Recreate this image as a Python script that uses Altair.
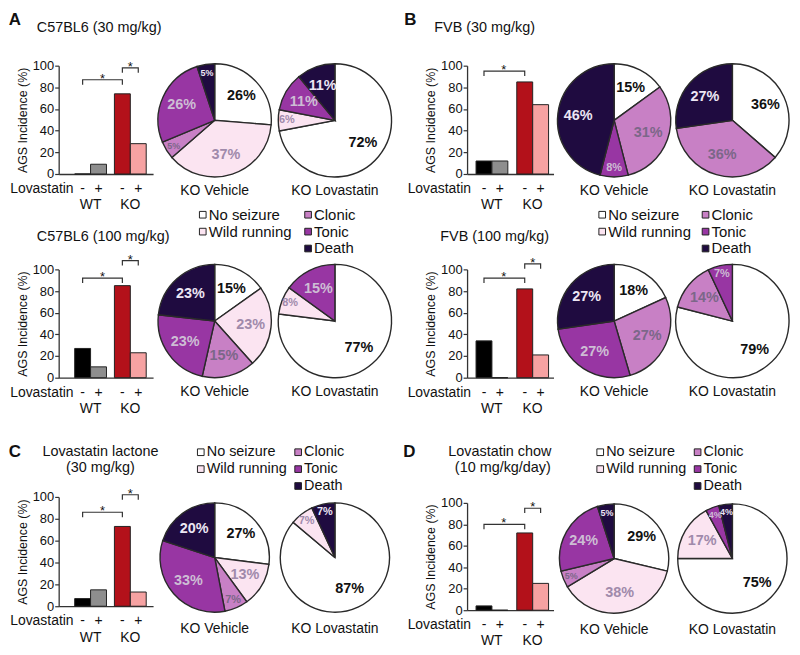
import altair as alt
import pandas as pd

FONT = "Liberation Sans"
INK = "#222222"

# ---------------- data ----------------
categories = ["No seizure", "Wild running", "Clonic", "Tonic", "Death"]
slice_colors = ["#ffffff", "#fbe4f1", "#c880c5", "#9836a3", "#1f0b40"]
slice_label_colors = ["#111111", "#a08aab", "#7c6789", "#cdbdd4", "#ece6f4"]
legend_col = [0, 0, 1, 1, 1]
legend_row = [0, 1, 0, 1, 2]

genotype = ["WT", "WT", "KO", "KO"]
lovastatin = ["-", "+", "-", "+"]
bar_colors = ["#000000", "#8e8e8e", "#b3111a", "#f6a2a2"]

# AGS incidence (%) : WT-, WT+, KO-, KO+
a1_bars = [0, 9, 74, 28]
a2_bars = [27, 10, 85, 23]
b1_bars = [12, 12, 85, 64]
b2_bars = [34, 0, 82, 21]
c_bars = [7, 15, 73, 13]
d_bars = [4, 0, 72, 25]

# seizure outcome (%) in order of categories
a1_vehicle = [26, 37, 5, 26, 5]
a1_lovastatin = [72, 6, 0, 11, 11]
a2_vehicle = [15, 23, 15, 23, 23]
a2_lovastatin = [77, 8, 0, 15, 0]
b1_vehicle = [15, 0, 31, 8, 46]
b1_lovastatin = [36, 0, 36, 0, 27]
b2_vehicle = [18, 0, 27, 27, 27]
b2_lovastatin = [79, 0, 14, 7, 0]
c_vehicle = [27, 13, 7, 33, 20]
c_lovastatin = [87, 7, 0, 0, 7]
d_vehicle = [29, 38, 5, 24, 5]
d_lovastatin = [75, 17, 0, 4, 4]

# significance brackets: (from genotype, from treatment, to genotype, to treatment, level %)
a1_sig = [("WT", "-", "KO", "-", 87), ("KO", "-", "KO", "+", 98)]
a2_sig = [("WT", "-", "KO", "-", 92), ("KO", "-", "KO", "+", 108)]
b1_sig = [("WT", "-", "KO", "-", 95)]
b2_sig = [("WT", "-", "KO", "-", 92), ("KO", "-", "KO", "+", 105)]
c_sig = [("WT", "-", "KO", "-", 86), ("KO", "-", "KO", "+", 102)]
d_sig = [("WT", "-", "KO", "-", 80), ("KO", "-", "KO", "+", 95)]


def text_layer(txt, x, y, size=14, weight="normal", align="left"):
    return alt.Chart(pd.DataFrame({"t": [txt]})).mark_text(
        fontSize=size, fontWeight=weight, align=align, color="#111111", font=FONT
    ).encode(text="t:N", x=alt.value(x), y=alt.value(y))


def bar_cell(vals, sig, W, H, top, xpad, lov_x, texts):
    df = pd.DataFrame({"gen": genotype, "trt": lovastatin, "v": vals, "col": bar_colors})
    pi, po, al = xpad
    xenc = alt.X("gen:N", scale=alt.Scale(domain=["WT", "KO"], paddingInner=pi,
                                            paddingOuter=po, align=al),
                 axis=alt.Axis(title=None, ticks=False, labelAngle=0, labelPadding=24,
                               labelFontSize=14, labelColor="#111111", labelFont=FONT,
                               domainColor="#333333", domainWidth=1.3))
    xoff = alt.XOffset("trt:N", scale=alt.Scale(domain=["-", "+"], paddingInner=0, paddingOuter=0))
    yenc = alt.Y("v:Q", scale=alt.Scale(domain=[0, 100], range=[H, top], nice=False),
                 axis=alt.Axis(values=[0, 20, 40, 60, 80, 100], title="AGS Incidence (%)",
                               grid=False, tickSize=4, labelPadding=1, labelFontSize=13,
                               labelFont=FONT, titleFont=FONT, titleFontSize=12.5,
                               titleFontWeight="normal", titlePadding=3, titleColor="#111111",
                               labelColor="#111111", domainColor="#333333", domainWidth=1.3,
                               tickColor="#333333", tickWidth=1.2))
    bars = alt.Chart(df).mark_bar(stroke=INK, strokeWidth=1).encode(
        x=xenc, xOffset=xoff, y=yenc, fill=alt.Fill("col:N", scale=None))
    signs = alt.Chart(df).mark_text(fontSize=14, font=FONT, color="#111111").encode(
        x=xenc, xOffset=xoff, y=alt.value(H + 15), text="trt:N")
    rows = []
    for i, (g1, t1, g2, t2, lv) in enumerate(sig):
        for k, (g, t, v) in enumerate([(g1, t1, lv - 4.5), (g1, t1, lv), (g2, t2, lv), (g2, t2, lv - 4.5)]):
            rows.append({"gen": g, "trt": t, "v": v, "ord": k, "bid": i})
    bdf = pd.DataFrame(rows)
    brackets = alt.Chart(bdf).mark_line(color="#333333", strokeWidth=1.2).encode(
        x=xenc, xOffset=xoff, y=yenc, detail="bid:N", order="ord:Q")
    layers = [bars, brackets, signs]
    s1 = pd.DataFrame([{"gen": sig[0][0], "trt": "+", "v": sig[0][4], "s": "*"}])
    layers.append(alt.Chart(s1).mark_text(fontSize=13, dx=4, dy=3, baseline="alphabetic",
                                          font=FONT, color="#111111").encode(
        x=xenc, xOffset=xoff, y=yenc, text="s:N"))
    if len(sig) > 1:
        s2 = pd.DataFrame([{"gen": sig[1][0], "trt": sig[1][1], "v": sig[1][4], "s": "*"}])
        layers.append(alt.Chart(s2).mark_text(fontSize=13, dx=8, dy=3, baseline="alphabetic",
                                              font=FONT, color="#111111").encode(
            x=xenc, xOffset=xoff, y=yenc, text="s:N"))
    layers.append(text_layer("Lovastatin", lov_x, H + 15, 14, "normal", "right"))
    for t in texts:
        layers.append(text_layer(*t))
    return alt.layer(*layers).properties(width=W, height=H)


label_fill = {
    "condition": [{"test": f"datum.ord == {i}", "value": c}
                  for i, c in enumerate(slice_label_colors[:-1])],
    "value": slice_label_colors[-1],
}
label_size = {
    "condition": [{"test": "datum.v < 6", "value": 9},
                  {"test": "datum.v < 10", "value": 11}],
    "value": 14.5,
}


def pie_cell(vals, W, H, cx, cy, r, name, gap, legend=None):
    df = pd.DataFrame({"cat": categories, "v": vals, "ord": list(range(5)),
                       "fillc": slice_colors})
    df = df[df.v > 0].copy()
    df["big"] = [f"{v}%" if v >= 10 else "" for v in df.v]
    df["small"] = [f"{v}%" if v < 10 else "" for v in df.v]
    base = alt.Chart(df).encode(theta=alt.Theta("v:Q", stack=True), order=alt.Order("ord:Q"))
    arcs = base.mark_arc(radius=r, stroke="#2a2a2a", strokeWidth=1.4).encode(
        fill=alt.Fill("fillc:N", scale=None), x=alt.value(cx), y=alt.value(cy))
    labs_big = base.mark_text(fontWeight="bold", font=FONT).encode(
        radius=alt.value(r * 0.64), text="big:N", fill=label_fill, size=label_size,
        x=alt.value(cx), y=alt.value(cy))
    labs_small = base.mark_text(fontWeight="bold", font=FONT).encode(
        radius=alt.value(r * 0.85), text="small:N", fill=label_fill, size=label_size,
        x=alt.value(cx), y=alt.value(cy))
    layers = [arcs, labs_big, labs_small,
              text_layer(name, cx, cy + r + gap, 14, "normal", "center")]
    if legend is not None:
        x0, x1, y0, fs = legend
        ldf = pd.DataFrame({"cat": categories, "lcol": legend_col, "lrow": legend_row,
                            "fillc": slice_colors})
        lx = alt.X("lcol:Q", scale=alt.Scale(domain=[0, 1], range=[x0, x1], nice=False), axis=None)
        ly = alt.Y("lrow:Q", scale=alt.Scale(domain=[0, 2], range=[y0, y0 + 34], nice=False), axis=None)
        layers.append(alt.Chart(ldf).mark_square(size=45, stroke=INK, strokeWidth=1, opacity=1).encode(
            x=lx, y=ly, fill=alt.Fill("fillc:N", scale=None)))
        layers.append(alt.Chart(ldf).mark_text(align="left", dx=6, fontSize=fs, font=FONT,
                                               color="#111111").encode(x=lx, y=ly, text="cat:N"))
    return alt.layer(*layers).properties(width=W, height=H)


PAD_A = (0.2, 0.2875, 0.70)
PAD_B = (0.23, 0.176, 0.625)

cells = [
    # row 1
    bar_cell(a1_bars, a1_sig, 95, 110, 1, PAD_A, 15,
             [("A", -44, -44.5, 17, "bold", "center"), ("C57BL6 (30 mg/kg)", -22, -37, 14.5)]),
    pie_cell(a1_vehicle, 116, 110, 58, 56, 57, "KO Vehicle", 14),
    pie_cell(a1_lovastatin, 188, 110, 59, 56, 57, "KO Lovastatin", 14),
    bar_cell(b1_bars, b1_sig, 87, 110, 1, PAD_B, 4,
             [("B", -57, -44.5, 17, "bold", "center"), ("FVB (30 mg/kg)", -33, -37, 14.5)]),
    pie_cell(b1_vehicle, 116, 110, 57, 56, 57, "KO Vehicle", 14),
    pie_cell(b1_lovastatin, 116, 110, 56, 56, 57, "KO Lovastatin", 14),
    # row 2
    bar_cell(a2_bars, a2_sig, 95, 165, 56, PAD_A, 15, [("C57BL6 (100 mg/kg)", -22, 23, 14.5)]),
    pie_cell(a2_vehicle, 116, 165, 58, 108, 57, "KO Vehicle", 14, legend=(46, 152, 1, 15)),
    pie_cell(a2_lovastatin, 188, 165, 59, 108, 57, "KO Lovastatin", 14),
    bar_cell(b2_bars, b2_sig, 87, 165, 56, PAD_B, 4, [("FVB (100 mg/kg)", -27, 23, 14.5)]),
    pie_cell(b2_vehicle, 116, 165, 57, 108, 57, "KO Vehicle", 14, legend=(45, 149, 1, 15)),
    pie_cell(b2_lovastatin, 116, 165, 56, 108, 57, "KO Lovastatin", 14),
    # row 3
    bar_cell(c_bars, c_sig, 95, 190, 80, PAD_A, 15,
             [("C", -44, 35, 17, "bold", "center"), ("Lovastatin lactone", 42, 35, 14.5, "normal", "center"),
              ("(30 mg/kg)", 42, 51, 14.5, "normal", "center")]),
    pie_cell(c_vehicle, 116, 190, 58, 141, 55, "KO Vehicle", 17, legend=(44, 142, 35, 14.5)),
    pie_cell(c_lovastatin, 188, 190, 59, 141, 55, "KO Lovastatin", 17),
    bar_cell(d_bars, d_sig, 87, 194, 86, PAD_B, 4,
             [("D", -58, 35, 17, "bold", "center"), ("Lovastatin chow", 33, 35, 14.5, "normal", "center"),
              ("(10 mg/kg/day)", 36, 51, 14.5, "normal", "center")]),
    pie_cell(d_vehicle, 116, 190, 57, 142, 55, "KO Vehicle", 17, legend=(43, 141, 35, 14.5)),
    pie_cell(d_lovastatin, 116, 190, 56, 142, 55, "KO Lovastatin", 17),
]

chart = alt.concat(*cells, columns=6, spacing={"row": 40, "column": 4}, bounds="flush").resolve_scale(
    x="independent", y="independent", theta="independent"
).properties(
    padding={"left": 0, "top": 1, "right": 0, "bottom": 0}, background="white"
).configure(font=FONT).configure_view(stroke="transparent", strokeWidth=0)

chart.save("out.html", embed_options={"renderer": "svg", "actions": False})
